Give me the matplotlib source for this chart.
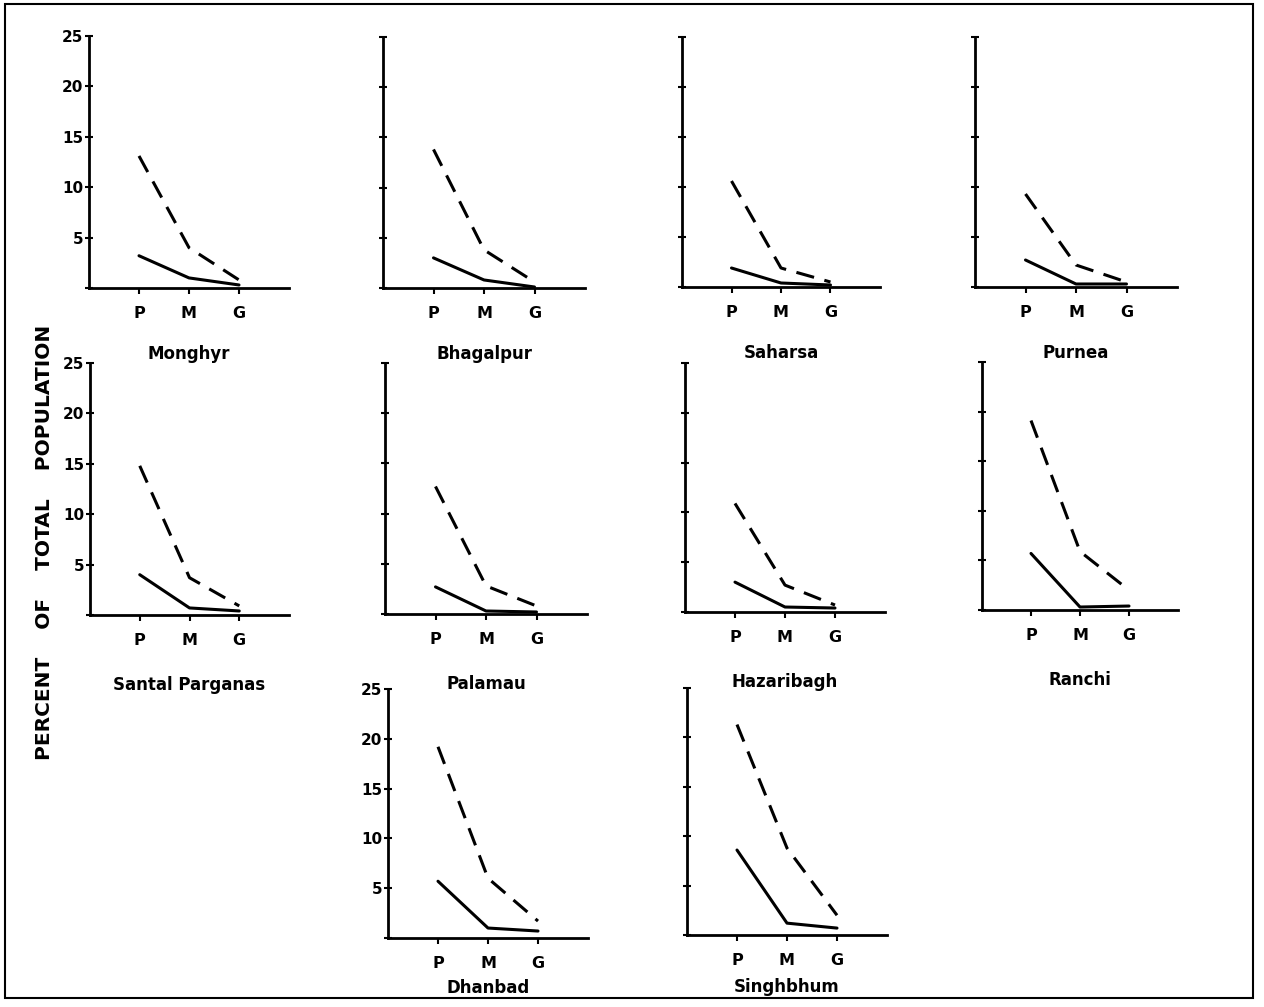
import matplotlib
matplotlib.use("Agg")
import matplotlib.pyplot as plt
from matplotlib.patches import Rectangle

# ---- data ----
categories = ["P", "M", "G"]
districts = ["Monghyr", "Bhagalpur", "Saharsa", "Purnea",
             "Santal Parganas", "Palamau", "Hazaribagh", "Ranchi",
             "Dhanbad", "Singhbhum"]
dashed_values = [
    [13.1, 4.0, 0.8],   # Monghyr
    [13.8, 3.8, 0.6],   # Bhagalpur
    [10.6, 1.9, 0.5],   # Saharsa
    [9.3, 2.2, 0.5],    # Purnea
    [14.8, 3.7, 0.9],   # Santal Parganas
    [12.7, 2.8, 0.8],   # Palamau
    [10.9, 2.7, 0.7],   # Hazaribagh
    [19.1, 5.9, 2.0],   # Ranchi
    [19.2, 6.0, 1.7],   # Dhanbad
    [21.3, 8.8, 2.0],   # Singhbhum
]
solid_values = [
    [3.2, 1.0, 0.3],
    [3.0, 0.8, 0.1],
    [1.9, 0.4, 0.2],
    [2.7, 0.3, 0.3],
    [4.0, 0.7, 0.4],
    [2.7, 0.3, 0.2],
    [3.0, 0.5, 0.4],
    [5.7, 0.3, 0.4],
    [5.7, 1.0, 0.7],
    [8.6, 1.2, 0.7],
]
y_ticks = [0, 5, 10, 15, 20, 25]
y_tick_labels = ["", "5", "10", "15", "20", "25"]
labelled_panels = ["Monghyr", "Santal Parganas", "Dhanbad"]

# ---- layout (pixel boxes: axis x, axis end x, y of zero, y of 25, label pad) ----
W, H = 1264, 1007
boxes = {
    "Monghyr": (89, 289, 288, 36, 17),
    "Bhagalpur": (383, 585, 288, 37, 17),
    "Saharsa": (682, 880, 287, 37, 17),
    "Purnea": (975, 1177, 287, 37, 17),
    "Santal Parganas": (90, 289, 615, 363, 20),
    "Palamau": (385, 587, 614, 363, 20),
    "Hazaribagh": (685, 885, 612, 363, 20),
    "Ranchi": (982, 1178, 610, 362, 20),
    "Dhanbad": (388, 588, 938, 689, 6),
    "Singhbhum": (687, 887, 935, 688, 7),
}

plt.rcParams["font.family"] = ["DejaVu Sans"]
fig = plt.figure(figsize=(W / 100, H / 100), dpi=100)
fig.patch.set_facecolor("white")

for name, dv, sv in zip(districts, dashed_values, solid_values):
    x0, x1, yb, yt, lp = boxes[name]
    ax = fig.add_axes([x0 / W, 1 - yb / H, (x1 - x0) / W, (yb - yt) / H])
    xs = list(range(1, len(categories) + 1))
    ax.plot(xs, dv, color="black", lw=2.2, linestyle=(0, (6, 3.5)),
            solid_capstyle="butt", dash_capstyle="butt")
    ax.plot(xs, sv, color="black", lw=2.2, solid_capstyle="round")
    ax.set_xlim(0, 4)
    ax.set_ylim(0, 25)
    ax.set_facecolor("none")
    for s in ["top", "right"]:
        ax.spines[s].set_visible(False)
    for s in ["left", "bottom"]:
        ax.spines[s].set_linewidth(2.0)
        ax.spines[s].set_color("black")
    ax.set_xticks(xs)
    ax.set_xticklabels(categories, fontsize=11.5, fontweight="bold")
    ax.set_yticks(y_ticks)
    if name in labelled_panels:
        ax.set_yticklabels(y_tick_labels, fontsize=11, fontweight="bold")
    else:
        ax.set_yticklabels([])
    ax.tick_params(axis="y", direction="inout", length=6, width=1.5, pad=1)
    ax.tick_params(axis="x", direction="out", length=4, width=1.5, pad=9)
    ax.set_xlabel(name, fontsize=12, fontweight="bold", labelpad=lp)

# y label
fig.text(45 / W, 1 - 542 / H, "PERCENT    OF    TOTAL    POPULATION",
         rotation=90, ha="center", va="center", fontsize=14.5, fontweight="bold")

# frame
fig.add_artist(Rectangle((5 / W, 1 - 998 / H), (1253 - 5) / W, (998 - 4) / H,
                         transform=fig.transFigure, fill=False,
                         edgecolor="black", lw=1.5))

fig.savefig("out.png", dpi=100)
